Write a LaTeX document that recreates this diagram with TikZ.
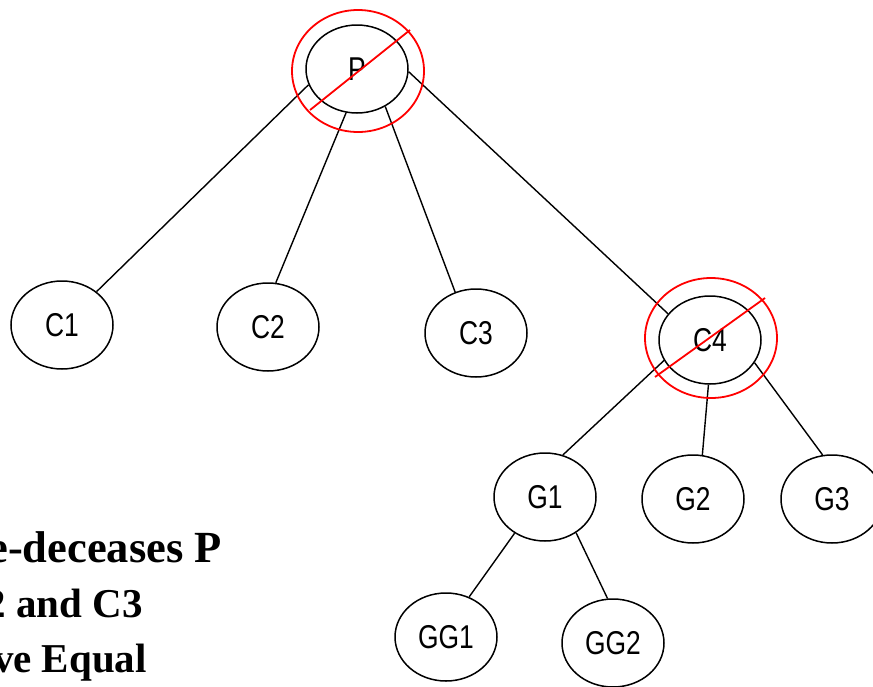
\documentclass[tikz,border=0pt]{standalone}
\usepackage{fontspec}
\setmainfont{Liberation Serif}
\newfontfamily\labfont[FakeStretch=0.8]{Liberation Sans}
\usetikzlibrary{shapes.geometric}
\begin{document}
\begin{tikzpicture}[x=1pt,y=-1pt,
  person/.style={draw=black, line width=1.5pt, ellipse, minimum width=102pt, minimum height=88pt, inner sep=0pt, font=\labfont\fontsize{33}{33}\selectfont},
  link/.style={draw=black, line width=1.4pt},
  cross/.style={draw=red, line width=1.8pt},
  note/.style={font=\bfseries\fontsize{41}{41}\selectfont, anchor=base east, inner sep=0pt}]
\useasboundingbox (0,0) rectangle (873,686);
\clip (0,0) rectangle (873,686);
% nodes
\node[person] (P) at (357,69) {P};
\node[person] (C1) at (62,325) {C1};
\node[person] (C2) at (268,327) {C2};
\node[person] (C3) at (476,333) {C3};
\node[person] (C4) at (710,340) {C4};
\node[person] (G1) at (545,497) {G1};
\node[person] (G2) at (693,499) {G2};
\node[person] (G3) at (832,499) {G3};
\node[person] (GG1) at (446,637) {GG1};
\node[person] (GG2) at (613,643) {GG2};
% connectors
\draw[link] (P.198) -- (C1.44);
\draw[link] (P.256) -- (C2.80);
\draw[link] (P.307) -- (C3.117);
\draw[link] (P.357) -- (C4.148);
\draw[link] (C4.204) -- (G1.67);
\draw[link] (C4.268) -- (G2.78);
\draw[link] (C4.333) -- (G3.102);
\draw[link] (G1.230) -- (GG1.60);
\draw[link] (G1.311) -- (GG2.97);
% red crossings
\node[cross, ellipse, minimum width=132pt, minimum height=122pt, inner sep=0pt] (Px) at (358,71) {};
\coordinate (Pa) at (310,110);
\coordinate (Pb) at (410,30);
\draw[cross] (Pa) -- (Pb);
\node[cross, ellipse, minimum width=132pt, minimum height=120pt, inner sep=0pt] (C4x) at (711,338) {};
\coordinate (Ca) at (655,377);
\coordinate (Cb) at (765,298);
\draw[cross] (Ca) -- (Cb);
% text
\node[note, font=\bfseries\fontsize{44.5}{44.5}\selectfont] (t1) at (222,562) {e-deceases P};
\node[note] (t2) at (143,617) {2 and C3};
\node[note] (t3) at (147,672) {ve Equal};
\end{tikzpicture}
\end{document}
